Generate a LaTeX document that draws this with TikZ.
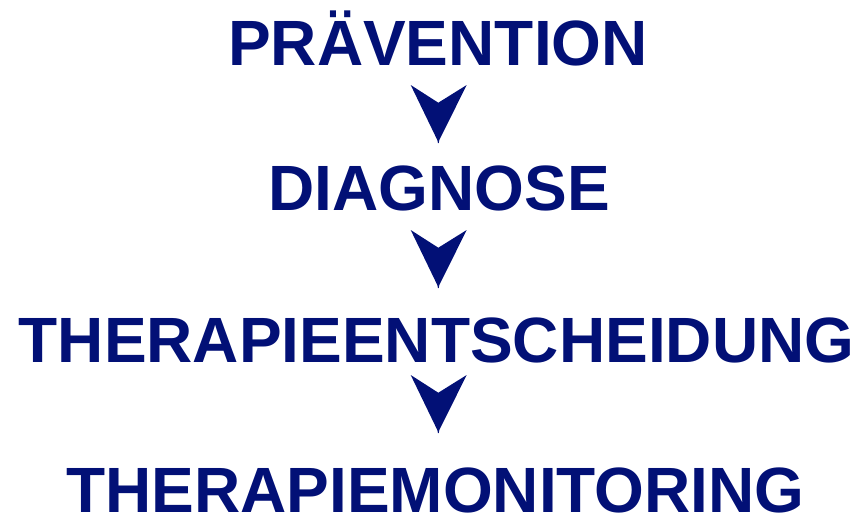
\documentclass[tikz,border=0pt]{standalone}
\usepackage{fontspec}
\setmainfont{Liberation Sans}
\definecolor{navy}{RGB}{2,16,118}
\begin{document}
\begin{tikzpicture}[x=1pt,y=-1pt,
  label/.style={text=navy,font=\fontsize{64}{64}\selectfont\bfseries,anchor=base,inner sep=0pt},
  chevron/.pic={\fill[navy] (-27.6,0) -- (0,17.7) -- (28.4,0) -- (1,55) -- (0.4,58) -- (-0.4,58) -- (-1,55) -- cycle;}]
\useasboundingbox (0,0) rectangle (858,515);
\node[label] (p) at (438,65) {PRÄVENTION};
\node[label] (d) at (439,210) {DIAGNOSE};
\node[label] (t) at (436.5,362) {THERAPIEENTSCHEIDUNG};
\node[label] (m) at (435.5,512) {THERAPIEMONITORING};
\coordinate (a1) at (438.3,85);
\coordinate (a2) at (438.3,230);
\coordinate (a3) at (438.3,375);
\pic at (a1) {chevron};
\pic at (a2) {chevron};
\pic at (a3) {chevron};
\end{tikzpicture}
\end{document}
